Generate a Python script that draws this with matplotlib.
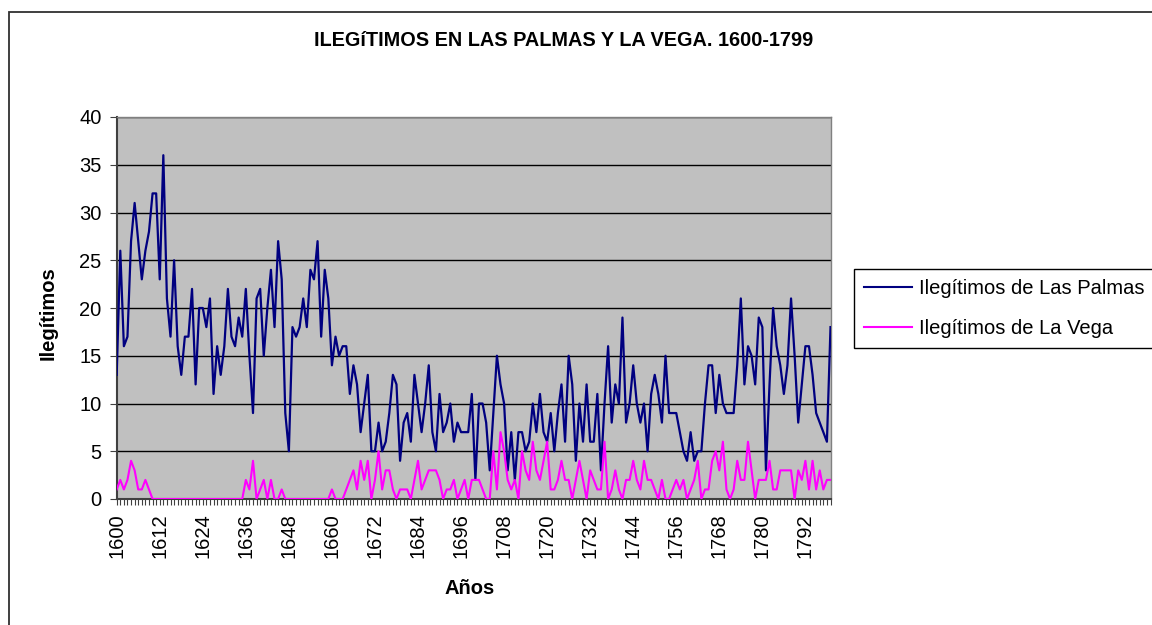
import numpy as np
import matplotlib
matplotlib.use("Agg")
import matplotlib.pyplot as plt
from matplotlib.patches import Rectangle

plt.rcParams['font.family'] = ['Liberation Sans', 'DejaVu Sans']

years = list(range(1600, 1800))

las_palmas = [
    # 1600-1631
    13, 26, 16, 17, 27, 31, 27, 23, 26, 28, 32, 32, 23, 36, 21, 17, 25, 16, 13, 17,
    17, 22, 12, 20, 20, 18, 21, 11, 16, 13, 16, 22,
    # 1632-1665
    17, 16, 19, 17, 22, 15, 9, 21, 22, 15, 20, 24, 18, 27, 23, 9, 5, 18, 17, 18,
    21, 18, 24, 23, 27, 17, 24, 21, 14, 17, 15, 16, 16, 11,
    # 1666-1699
    14, 12, 7, 10, 13, 5, 5, 8, 5, 6, 9, 13, 12, 4, 8, 9, 6, 13, 10, 7,
    10, 14, 7, 5, 11, 7, 8, 10, 6, 8, 7, 7, 7, 11,
    # 1700-1732
    2, 10, 10, 8, 3, 9, 15, 12, 10, 3, 7, 2, 7, 7, 5, 6, 10, 7, 11, 7,
    6, 9, 5, 9, 12, 6, 15, 12, 4, 10, 6, 12, 6,
    # 1733-1764
    6, 11, 3, 10, 16, 8, 12, 10, 19, 8, 10, 14, 10, 8, 10, 5, 11, 13, 11, 8,
    15, 9, 9, 9, 7, 5, 4, 7, 4, 5, 5, 10,
    # 1765-1799
    14, 14, 9, 13, 10, 9, 9, 9, 14, 21, 12, 16, 15, 12, 19, 18, 3, 12, 20, 16,
    14, 11, 14, 21, 15, 8, 12, 16, 16, 13, 9, 8, 7, 6, 18,
]

la_vega = [
    # 1600-1609
    1, 2, 1, 2, 4, 3, 1, 1, 2, 1,
    # 1610-1635
    0, 0, 0, 0, 0, 0, 0, 0, 0, 0, 0, 0, 0, 0, 0, 0, 0, 0, 0, 0, 0, 0, 0, 0, 0, 0,
    # 1636-1647
    2, 1, 4, 0, 1, 2, 0, 2, 0, 0, 1, 0,
    # 1648-1659
    0, 0, 0, 0, 0, 0, 0, 0, 0, 0, 0, 0,
    # 1660-1663
    1, 0, 0, 0,
    # 1664-1699
    1, 2, 3, 1, 4, 2, 4, 0, 2, 5, 1, 3, 3, 1, 0, 1, 1, 1, 0, 2,
    4, 1, 2, 3, 3, 3, 2, 0, 1, 1, 2, 0, 1, 2, 0, 2,
    # 1700-1732
    2, 2, 1, 0, 0, 5, 1, 7, 5, 2, 1, 2, 0, 5, 3, 2, 6, 3, 2, 4,
    6, 1, 1, 2, 4, 2, 2, 0, 2, 4, 2, 0, 3,
    # 1733-1763
    2, 1, 1, 6, 0, 1, 3, 1, 0, 2, 2, 4, 2, 1, 4, 2, 2, 1, 0, 2,
    0, 0, 1, 2, 1, 2, 0, 1, 2, 4, 0,
    # 1764-1799
    1, 1, 4, 5, 3, 6, 1, 0, 1, 4, 2, 2, 6, 3, 0, 2, 2, 2, 4, 1,
    1, 3, 3, 3, 3, 0, 3, 2, 4, 1, 4, 1, 3, 1, 2, 2,
]

tick_years = list(range(1600, 1800, 12))
y_ticks = list(range(0, 45, 5))

title = "ILEGíTIMOS EN LAS PALMAS Y LA VEGA. 1600-1799"
xlabel = "Años"
ylabel = "Ilegítimos"
label_lp = "Ilegítimos de Las Palmas"
label_lv = "Ilegítimos de La Vega"

W, H = 1152, 625
fig = plt.figure(figsize=(W / 100, H / 100), dpi=100)
fig.patch.set_facecolor('white')

# outer chart frame (right/bottom sides fall outside the image)
fig.add_artist(Rectangle((8.5 / W, -0.5), 2.0, 1.5 - 11.5 / H,
                         transform=fig.transFigure, fill=False,
                         edgecolor='#303030', linewidth=1.3))

left, right = 116.7 / W, 830.5 / W
bottom, top = 1 - 499 / H, 1 - 117 / H
ax = fig.add_axes([left, bottom, right - left, top - bottom])
ax.set_facecolor('#C0C0C0')

ax.plot(years, las_palmas, color='#000080', linewidth=1.6, label=label_lp, zorder=3)
ax.plot(years, la_vega, color='#FF00FF', linewidth=1.5, label=label_lv, zorder=3)

ax.set_xlim(1600, 1799)
ax.set_ylim(0, 40)
ax.set_yticks(y_ticks)
ax.set_yticklabels([str(v) for v in y_ticks])
ax.yaxis.grid(True, color='black', linewidth=1.0)
ax.set_axisbelow(True)

ax.set_xticks(years, minor=True)
ax.set_xticks(tick_years)
ax.set_xticklabels([str(y) for y in tick_years], rotation=90)
ax.tick_params(axis='x', which='both', direction='out', length=4.5, width=0.8,
               color='#404040', labelsize=14.5, pad=6)
ax.tick_params(axis='y', direction='out', length=5, width=0.8, color='#404040',
               labelsize=14.5, pad=6)

for s in ['left', 'bottom']:
    ax.spines[s].set_color('#404040')
    ax.spines[s].set_linewidth(1.5)
for s in ['top', 'right']:
    ax.spines[s].set_color('#808080')
    ax.spines[s].set_linewidth(1.0)

fig.text(564 / W, 1 - 41 / H, title, ha='center', va='center',
         fontsize=14.3, fontweight='bold')
fig.text(470 / W, 1 - 588 / H, xlabel, ha='center', va='center',
         fontsize=14.5, fontweight='bold')
fig.text(48 / W, 1 - 313 / H, ylabel, ha='center', va='center',
         fontsize=14.5, fontweight='bold', rotation=90)

leg = fig.legend(loc='upper left', bbox_to_anchor=(854 / W, 1 - 269 / H),
                 bbox_transform=fig.transFigure, borderaxespad=0,
                 fontsize=14.5, frameon=True, fancybox=False, shadow=False,
                 handlelength=2.4, handletextpad=0.35, labelspacing=1.05,
                 borderpad=0.5)
leg.get_frame().set_edgecolor('black')
leg.get_frame().set_linewidth(1.0)
leg.get_frame().set_alpha(1)
for line in leg.get_lines():
    line.set_linewidth(1.5)

fig.savefig('out.png', dpi=100, facecolor='white')
